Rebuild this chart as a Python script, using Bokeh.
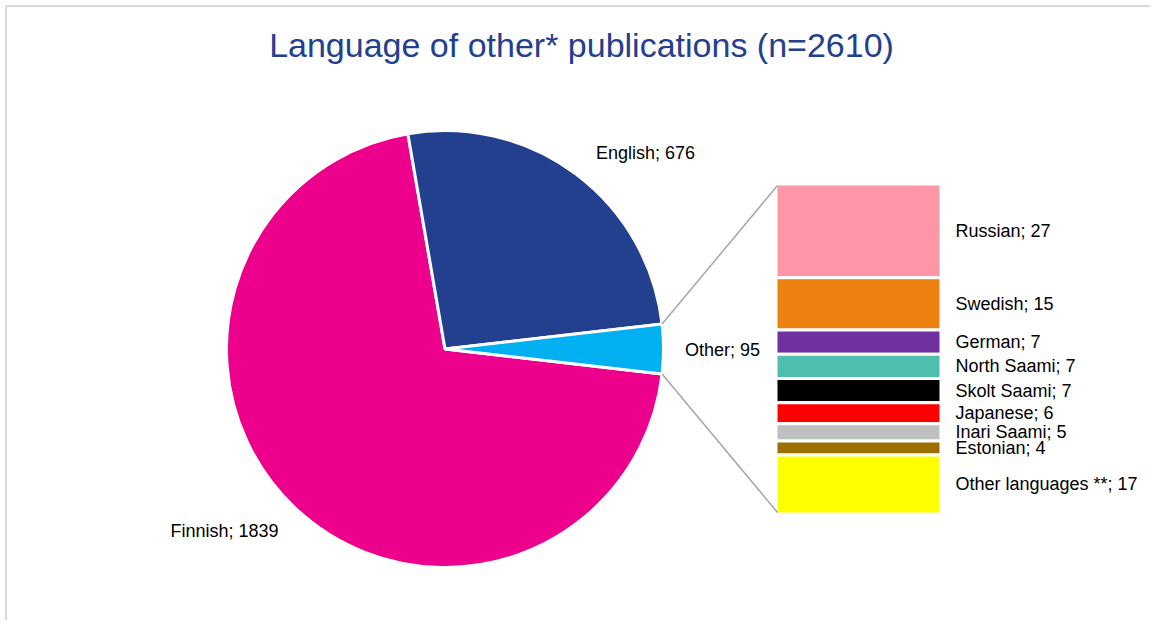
import math
from bokeh.plotting import figure
from bokeh.models import Range1d
from bokeh.core.properties import value
from bokeh.embed import file_html
from bokeh.resources import INLINE

# ---- data ----
pie_labels = ["Finnish", "English", "Other"]
pie_values = [1839, 676, 95]
pie_colors = ["#EC008C", "#23408E", "#00B0F0"]

bar_labels = ["Russian", "Swedish", "German", "North Saami", "Skolt Saami",
              "Japanese", "Inari Saami", "Estonian", "Other languages **"]
bar_values = [27, 15, 7, 7, 7, 6, 5, 4, 17]
bar_colors = ["#FF96A7", "#EC810F", "#7030A0", "#4DBFAC", "#000000",
              "#FF0000", "#BFBFBF", "#9C6F00", "#FFFF00"]

title_text = "Language of other* publications (n=2610)"

# ---- layout ----
W, H = 1150, 620
OFF = 0
def sx(x):  # screen x -> data x
    return x - OFF
def sy(y):  # screen y -> data y
    return H - (y - OFF)

p = figure(width=W, height=H, output_backend="svg", toolbar_location=None,
           x_range=Range1d(0, W), y_range=Range1d(0, H), min_border=0)
p.axis.visible = False
p.xgrid.visible = False
p.ygrid.visible = False
p.outline_line_color = None
p.background_fill_color = "white"

# frame border (left / top only visible)
p.segment(x0=[sx(5.5), sx(5.5)], y0=[0, sy(5.5)], x1=[sx(5.5), W], y1=[sy(5.5), sy(5.5)],
          line_color="#D9D9D9", line_width=2)

# title
p.text(x=[sx(581)], y=[sy(44)], text=[title_text], text_font=value("Liberation Sans"),
       text_font_size="34px", text_color="#23408E", text_align="center",
       text_baseline="middle")

# ---- pie ----
cx, cy, r = sx(444.5), sy(348.5), 218.5
total = sum(pie_values)
other_ang = pie_values[2] / total * 2 * math.pi
eng_ang = pie_values[1] / total * 2 * math.pi
starts = [other_ang / 2 + eng_ang, other_ang / 2, -other_ang / 2]
ends = [2 * math.pi - other_ang / 2, other_ang / 2 + eng_ang, other_ang / 2]
p.wedge(x=cx, y=cy, radius=r, start_angle=starts, end_angle=ends,
        fill_color=pie_colors, line_color="white", line_width=3)

# pie labels
pie_lx = [sx(224), sx(645), sx(722)]
pie_ly = [sy(530), sy(152), sy(349)]
p.text(x=pie_lx, y=pie_ly, text=[f"{l}; {v}" for l, v in zip(pie_labels, pie_values)],
       text_font=value("Liberation Sans"), text_font_size="18px", text_color="#000000",
       text_align="center", text_baseline="middle")

# ---- stacked bar ----
bx0, bx1 = sx(775.5), sx(940.5)
btop, bbot = sy(183.5), sy(513.5)
scale = (btop - bbot) / sum(bar_values)
tops, bottoms = [], []
cur = btop
for v in bar_values:
    tops.append(cur)
    cur -= v * scale
    bottoms.append(cur)
p.quad(left=bx0, right=bx1, top=tops, bottom=bottoms, fill_color=bar_colors,
       line_color="white", line_width=3)

mids = [(t + b) / 2 for t, b in zip(tops, bottoms)]
p.text(x=sx(955), y=mids, text=[f"{l}; {v}" for l, v in zip(bar_labels, bar_values)],
       text_font=value("Liberation Sans"), text_font_size="18px", text_color="#000000",
       text_align="left", text_baseline="middle")

# connector lines
ex = cx + r * math.cos(other_ang / 2)
ey_top = cy + r * math.sin(other_ang / 2)
ey_bot = cy - r * math.sin(other_ang / 2)
p.segment(x0=[ex, ex], y0=[ey_top, ey_bot], x1=[bx0 + 1.5, bx0 + 1.5], y1=[btop - 1.5, bbot + 1.5],
          line_color="#A6A6A6", line_width=1.5)

open("out.html", "w").write(file_html(p, INLINE))
